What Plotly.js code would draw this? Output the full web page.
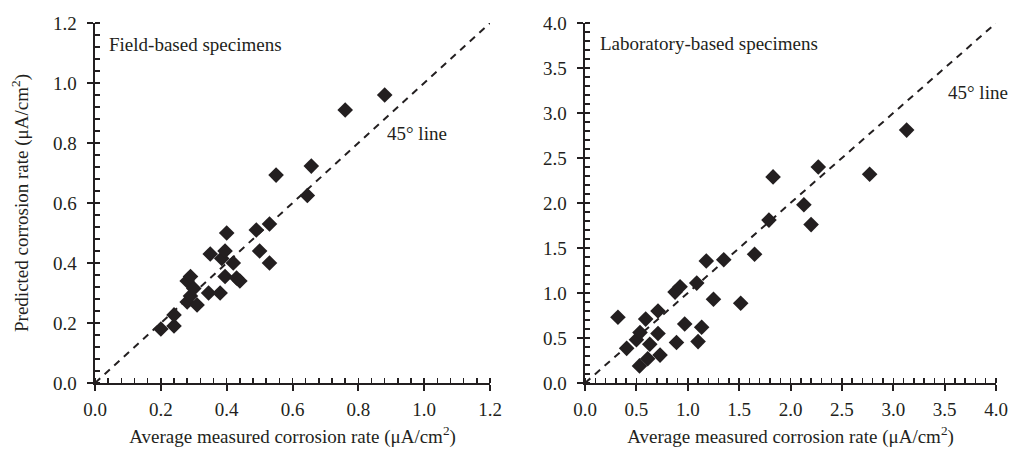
<!DOCTYPE html>
<html>
<head>
<meta charset="utf-8">
<script src="https://cdn.plot.ly/plotly-3.0.1.min.js"></script>
<style>html,body{margin:0;padding:0;background:#fff;}#chart{width:1018px;height:456px;}</style>
</head>
<body>
<div id="chart"></div>
<script>
// Field-based specimens
const fieldMeasured = [0.20,0.24,0.24,0.28,0.29,0.28,0.29,0.30,0.31,0.345,0.35,0.38,0.385,0.395,0.40,0.395,0.42,0.43,0.44,0.49,0.50,0.53,0.53,0.55,0.645,0.657,0.76,0.88];
const fieldPredicted = [0.18,0.19,0.227,0.27,0.29,0.34,0.355,0.315,0.26,0.30,0.43,0.30,0.415,0.44,0.50,0.355,0.40,0.35,0.34,0.51,0.44,0.53,0.40,0.693,0.625,0.723,0.91,0.96];
// Laboratory-based specimens
const labMeasured = [0.32,0.405,0.53,0.50,0.535,0.59,0.63,0.61,0.71,0.71,0.73,0.89,0.97,0.876,0.925,1.087,1.10,1.135,1.18,1.25,1.35,1.515,1.65,1.79,1.83,2.13,2.20,2.27,2.77,3.13];
const labPredicted = [0.73,0.385,0.19,0.48,0.56,0.71,0.43,0.27,0.55,0.80,0.31,0.45,0.656,1.01,1.07,1.11,0.46,0.62,1.356,0.93,1.37,0.886,1.43,1.81,2.29,1.98,1.76,2.40,2.32,2.81];
// 45° reference lines
const fieldLine = [0, 1.2];
const labLine = [0, 4.0];
// Tick labels
const fieldTicks = [0.0,0.2,0.4,0.6,0.8,1.0,1.2];
const labTicks = [0.0,0.5,1.0,1.5,2.0,2.5,3.0,3.5,4.0];

const ink = '#231f20';
const serif = 'Liberation Serif';

const markerStyle = {symbol:'diamond', size:12, color:ink};
const lineStyle = {color:ink, width:2, dash:'7px,6px'};

const traces = [
  {x:fieldLine, y:fieldLine, mode:'lines', line:lineStyle, xaxis:'x', yaxis:'y', hoverinfo:'skip'},
  {x:fieldMeasured, y:fieldPredicted, mode:'markers', marker:markerStyle, xaxis:'x', yaxis:'y'},
  {x:labLine, y:labLine, mode:'lines', line:lineStyle, xaxis:'x2', yaxis:'y2', hoverinfo:'skip'},
  {x:labMeasured, y:labPredicted, mode:'markers', marker:markerStyle, xaxis:'x2', yaxis:'y2'}
];

function axis(range, ticks, minorStep, domain, anchor, titleText, standoff, labelOff){
  return {
    range: range, domain: domain, anchor: anchor,
    tickmode:'array', tickvals: ticks, ticktext: ticks.map(v=>v.toFixed(1)),
    ticks:'outside', ticklen:6, tickwidth:2, tickcolor:ink,
    ticklabelstandoff: labelOff,
    minor:{ticks:'inside', ticklen:5, tickwidth:1.5, tickcolor:ink, dtick:minorStep, showgrid:false},
    showline:true, linecolor:ink, linewidth:2.5, showgrid:false, zeroline:false,
    tickfont:{family:serif, size:19, color:ink},
    title: titleText ? {text:titleText, font:{family:serif, size:19, color:ink}, standoff:standoff} : {text:''},
    automargin:false, fixedrange:true
  };
}

const unit = ' (μA/cm<sup>2</sup>)';

const layout = {
  width:1018, height:456,
  margin:{l:10, r:10, t:10, b:60},
  paper_bgcolor:'#fff', plot_bgcolor:'#fff',
  showlegend:false,
  font:{family:serif, color:ink},
  xaxis: axis([0,1.2], fieldTicks, 0.04, [0.0852,0.4810], 'y', 'Average measured corrosion rate' + unit, 11, 2),
  yaxis: axis([0,1.2], fieldTicks, 0.04, [0.0337,0.9663], 'x', 'Predicted corrosion rate' + unit, 20, 6),
  xaxis2: axis([0,4.0], labTicks, 0.1, [0.5762,0.9880], 'y2', 'Average measured corrosion rate' + unit, 11, 2),
  yaxis2: axis([0,4.0], labTicks, 0.1, [0.0337,0.9663], 'x2', '', 0, 6),
  annotations:[
    {xref:'x', yref:'y', x:0.035, y:1.13, text:'Field-based specimens', showarrow:false, xanchor:'left', yanchor:'middle', font:{family:serif, size:19, color:ink}},
    {xref:'x', yref:'y', x:0.88, y:0.83, text:'45° line', showarrow:false, xanchor:'left', yanchor:'middle', font:{family:serif, size:19, color:ink}},
    {xref:'x2', yref:'y2', x:0.13, y:3.77, text:'Laboratory-based specimens', showarrow:false, xanchor:'left', yanchor:'middle', font:{family:serif, size:19, color:ink}},
    {xref:'x2', yref:'y2', x:3.51, y:3.23, text:'45° line', showarrow:false, xanchor:'left', yanchor:'middle', font:{family:serif, size:19, color:ink}}
  ]
};

Plotly.newPlot('chart', traces, layout, {staticPlot:true, displayModeBar:false});
</script>
</body>
</html>
